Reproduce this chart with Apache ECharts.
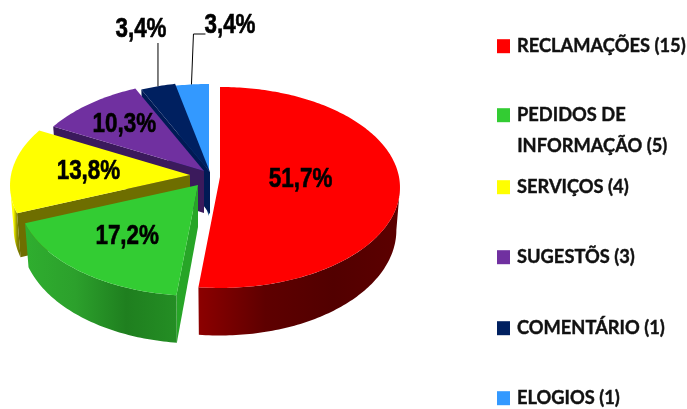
<!DOCTYPE html>
<html>
<head>
<meta charset="utf-8">
<script src="https://cdn.jsdelivr.net/npm/echarts@6/dist/echarts.min.js"></script>
<style>
  html, body { margin: 0; padding: 0; background: #fff; }
  #chart { width: 687px; height: 409px; }
</style>
</head>
<body>
<div id="chart"></div>
<script>
// dados do gráfico
const categories = ['RECLAMAÇÕES (15)', 'PEDIDOS DE\nINFORMAÇÃO (5)', 'SERVIÇOS (4)', 'SUGESTÕS (3)', 'COMENTÁRIO (1)', 'ELOGIOS (1)']
const values = [15, 5, 4, 3, 1, 1]

// cores
const topColors = ['#ff0000', '#33cc33', '#ffff00', '#7030a0', '#002060', '#3399ff']
const faceColors = [null, '#27a527', '#6e6e00', '#3b1a5c', '#001a55', '#1a4f8c']
const wallColors = [
  ['#8c0000', '#5e0000', '#520000', '#5c0000'],
  ['#2fae2f', '#2ca02c', '#1f7f1f', '#248e24'],
  ['#ffff00', '#ffff00', '#8a8a00', '#6e6e00'],
  ['#3b1a5c', '#3b1a5c'],
  ['#001a55', '#001a55'],
  ['#1a4f8c', '#1a4f8c']
]

// layout da pizza (elipse com perspectiva)
const RX = 179, RY = 99.4, PK = 0.104
const DEPTH = 42, BOTTOM_SX = 0.98, BOTTOM_SY = 1.05
const FRONT_FROM = 96, FRONT_TO = 264
const apexes = [[220, 177], [198, 185], [190, 175], [204, 171], [210, 172], [209, 174]]
const labelRadius = [0.45, 0.62, 0.57, 0.68, null, null]
const leaders = [null, null, null, null, { top: 43, bend: 0, tx: 141, ty: 30 }, { top: 34, bend: 12, tx: 230, ty: 26 }]
const legendTops = [37, 106, 178, 248, 319, 389]

const total = values.reduce((a, b) => a + b, 0)
const startAngles = values.map((_, i) => values.slice(0, i).reduce((a, b) => a + b, 0) / total * 360)
const endAngles = values.map((v, i) => startAngles[i] + v / total * 360)

const project = (deg, apex, r = 1) => {
  const t = deg * Math.PI / 180
  const X = r * Math.sin(t), Z = r * Math.cos(t)
  const w = 1 / (1 + PK * Z)
  return [apex[0] + RX * X * w, apex[1] - RY * Z * w]
}
const toBottom = (p, apex) => [
  apex[0] + (p[0] - apex[0]) * BOTTOM_SX,
  apex[1] + (p[1] - apex[1]) * BOTTOM_SY + DEPTH
]
const arc = (from, to, apex) => {
  const pts = []
  const n = Math.max(2, Math.ceil(to - from))
  for (let k = 0; k <= n; k++) pts.push(project(from + (to - from) * k / n, apex))
  return pts
}
const percentText = (v) => (v / total * 100).toFixed(1).replace('.', ',') + '%'

// não tem fonte estreita instalada, então comprime na horizontal
const LABEL_SCALE_X = 0.83
const labelStyle = { fontFamily: '"Liberation Sans"', fontWeight: 'bold', fontSize: 27, fill: '#000', stroke: '#000', lineWidth: 0.6, align: 'center', verticalAlign: 'middle' }
const legendFont = { fontFamily: 'Lato', fontWeight: 'bold', fontSize: 18.3, color: '#111', textBorderColor: '#111', textBorderWidth: 0.4 }

const renderSlice = (i) => (params, api) => {
  const apex = apexes[i]
  const from = startAngles[i], to = endAngles[i]
  const children = []

  // face radial (corte da fatia)
  if (faceColors[i]) {
    const rim = project(from, apex)
    children.push({
      type: 'polygon',
      shape: { points: [apex, rim, toBottom(rim, apex), toBottom(apex, apex)] },
      style: { fill: faceColors[i] }
    })
  }

  // parede externa, só a parte da frente
  const a = Math.max(from, FRONT_FROM), b = Math.min(to, FRONT_TO)
  if (b > a) {
    const upper = arc(a, b, apex)
    const lower = upper.map(p => toBottom(p, apex)).reverse()
    const stops = wallColors[i].map((c, k, list) => ({ offset: k / (list.length - 1), color: c }))
    children.push({
      type: 'polygon',
      shape: { points: upper.concat(lower) },
      style: { fill: new echarts.graphic.LinearGradient(0, 0, 1, 0, stops) }
    })
  }

  // topo
  children.push({
    type: 'polygon',
    shape: { points: [apex].concat(arc(from, to, apex)) },
    style: { fill: topColors[i] }
  })

  const mid = (from + to) / 2
  const text = percentText(api.value(0))
  if (labelRadius[i]) {
    const p = project(mid, apex, labelRadius[i])
    children.push({ type: 'text', x: p[0], y: p[1], scaleX: LABEL_SCALE_X, z2: 10, style: { ...labelStyle, text } })
  } else {
    const rim = project(mid, apex)
    const lead = leaders[i]
    const pts = [rim, [rim[0] + (lead.bend ? 2 : 0), lead.top]]
    if (lead.bend) pts.push([rim[0] + 2 + lead.bend, lead.top])
    children.push({ type: 'polyline', z2: 10, shape: { points: pts }, style: { fill: 'none', stroke: '#000', lineWidth: 1 } })
    children.push({ type: 'text', x: lead.tx, y: lead.ty, scaleX: LABEL_SCALE_X, z2: 10, style: { ...labelStyle, text } })
  }
  return { type: 'group', children }
}

const chart = echarts.init(document.getElementById('chart'))
chart.setOption({
  animation: false,
  backgroundColor: '#fff',
  legend: categories.map((name, i) => ({
    data: [name],
    left: 497,
    top: legendTops[i],
    orient: 'vertical',
    icon: 'rect',
    itemWidth: 13,
    itemHeight: 14,
    padding: 0,
    selectedMode: false,
    formatter: (n) => n.split('\n')[0],
    textStyle: { ...legendFont, padding: [0, 0, 0, 2] }
  })),
  // fatias de trás para a frente
  series: categories.map((name, i) => ({
    type: 'custom',
    name,
    coordinateSystem: 'none',
    itemStyle: { color: topColors[i] },
    renderItem: renderSlice(i),
    data: [[values[i]]],
    silent: true
  })).reverse(),
  graphic: [{
    type: 'text',
    left: 517,
    top: 137,
    style: {
      text: categories[1].split('\n')[1],
      fontFamily: legendFont.fontFamily,
      fontWeight: 'bold',
      fontSize: legendFont.fontSize,
      fill: legendFont.color,
      stroke: legendFont.textBorderColor,
      lineWidth: legendFont.textBorderWidth
    }
  }]
})
window.addEventListener('resize', () => chart.resize())
</script>
</body>
</html>
